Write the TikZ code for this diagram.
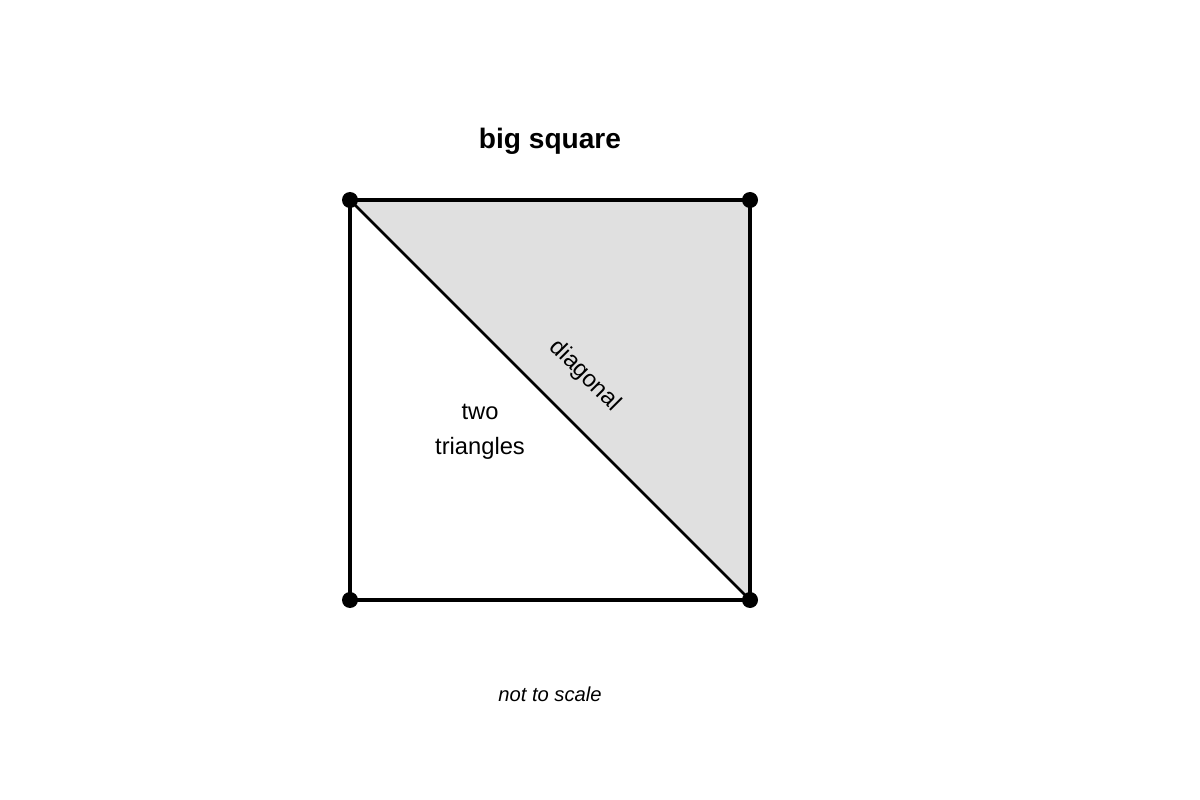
\documentclass[tikz,border=0pt]{standalone}
\usepackage{fontspec}
\setmainfont{Liberation Sans}
\usetikzlibrary{positioning}

\begin{document}
\begin{tikzpicture}[x=0.02cm,y=-0.02cm,
  corner/.style={circle,fill=black,inner sep=0pt,minimum size=0.32cm},
  lbl/.style={font=\fontsize{13.5}{19.8}\selectfont,align=center}]
	\useasboundingbox (0,0) rectangle (1200,800);
	\coordinate (TL) at (350,200);
	\coordinate (TR) at (750,200);
	\coordinate (BR) at (750,600);
	\coordinate (BL) at (350,600);
	\fill[black!12] (TL) -- (TR) -- (BR) -- cycle;
	\draw[line width=1.5pt] (TL) -- (BR);
	\draw[line width=2.3pt] (TL) -- (TR) -- (BR) -- (BL) -- cycle;
	\foreach \c in {TL,TR,BR,BL}
		\node[corner] (D\c) at (\c) {};
	\node[font=\bfseries\fontsize{16}{19}\selectfont] (title) at (550,141) {big square};
	\node[lbl] (two) at (480,432) {two\\triangles};
	\node[lbl,rotate=-45] (diag) at (585,376) {diagonal};
	\node[font=\itshape\fontsize{11.5}{14}\selectfont] (note) at (550,694) {not to scale};
\end{tikzpicture}
\end{document}
